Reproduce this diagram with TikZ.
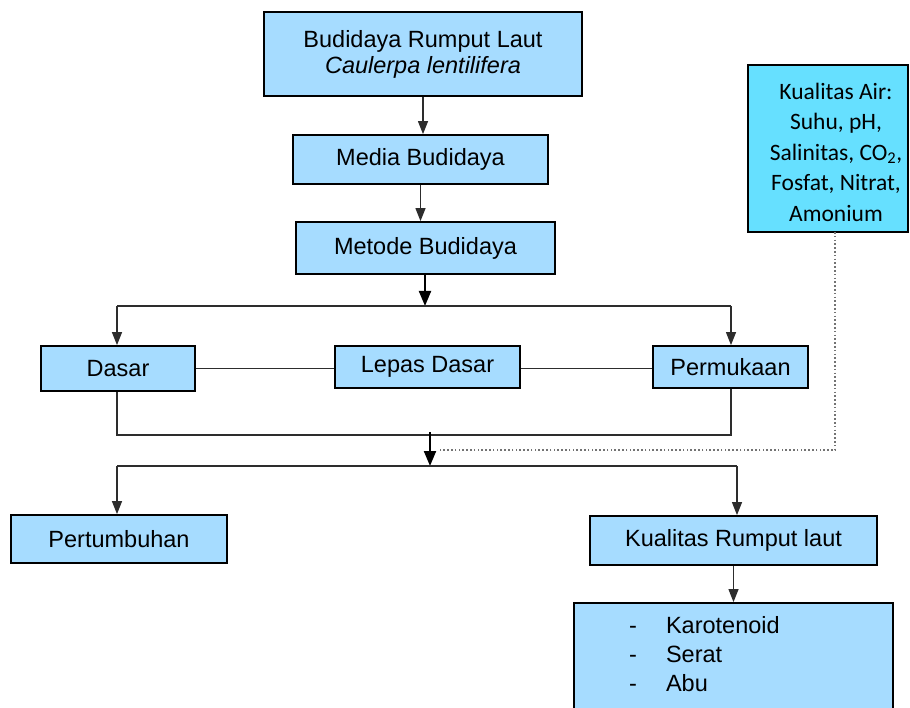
\documentclass[tikz,border=0pt]{standalone}
\usepackage{fontspec}
\setmainfont{Liberation Sans}
\newfontfamily\calib{Carlito}
\usetikzlibrary{arrows.meta}
\definecolor{boxblue}{RGB}{166,220,255}
\definecolor{aircyan}{RGB}{102,224,255}
\definecolor{lineg}{RGB}{45,45,45}
\begin{document}
\begin{tikzpicture}[x=1pt,y=-1pt,
  box/.style={draw=black, line width=1.8pt, fill=boxblue, inner sep=0pt, align=center,
    font=\fontsize{23.5}{26}\selectfont},
  conn/.style={draw=lineg, line width=1.2pt},
  arr/.style={conn, -{Triangle[length=13pt,width=10pt]}},
  bigarr/.style={draw=black, line width=2pt, -{Triangle[length=15pt,width=12pt]}},
  dotline/.style={draw=black!55, line width=2pt, dash pattern=on 1.6pt off 2.2pt}
]
\useasboundingbox (0,0) rectangle (910,708);

% nodes
\node[box, minimum width=318pt, minimum height=84pt] (top) at (423,54)
  {Budidaya Rumput Laut\\\textit{Caulerpa lentilifera}};
\node[box, minimum width=255pt, minimum height=49pt] (media) at (420.5,159.5) {Media Budidaya};
\node[box, minimum width=259pt, minimum height=52pt] (metode) at (425.5,248) {Metode Budidaya};
\node[box, minimum width=154pt, minimum height=45pt] (dasar) at (118,368.5) {Dasar};
\node[box, minimum width=185pt, minimum height=42pt] (lepas) at (427.5,367) {Lepas Dasar};
\node[box, minimum width=155pt, minimum height=42pt] (perm) at (730.5,367) {Permukaan};
\node[box, minimum width=216pt, minimum height=48pt] (pert) at (119,539) {Pertumbuhan};
\node[box, minimum width=287pt, minimum height=49pt] (kual) at (733.5,540.5) {Kualitas Rumput laut};
\node[box, minimum width=319pt, minimum height=114pt] (list) at (733.5,660) {};
\node[anchor=north west, inner sep=0pt, font=\fontsize{23.5}{29}\selectfont] (listtext) at (629,613)
  {\begin{tabular}{@{}l@{\hspace{29pt}}l@{}}-&Karotenoid\\-&Serat\\-&Abu\end{tabular}};
\node[draw=black, line width=1.8pt, fill=aircyan, minimum width=160pt, minimum height=167pt] (air) at (828,148.5) {};
\node[align=center, inner sep=0pt, font=\calib\fontsize{23.5}{30.5}\selectfont] (airtext) at (836,152)
  {Kualitas Air:\\Suhu, pH,\\Salinitas, CO\textsubscript{2},\\Fosfat, Nitrat,\\Amonium};

% coordinates
\coordinate (b1) at (425,306);
\coordinate (b1l) at (117,306);
\coordinate (b1r) at (731,306);
\coordinate (j1l) at (117,435);
\coordinate (j1r) at (731,435);
\coordinate (j1) at (430,432);
\coordinate (b2) at (430,466);
\coordinate (b2l) at (117,466);
\coordinate (b2r) at (737,466);
\coordinate (airb) at (835,232);
\coordinate (dc) at (835,450);
\coordinate (de) at (440,450);

% connectors
\draw[arr] (top.south) -- (top.south |- media.north);
\draw[arr] (media.south) -- (media.south |- metode.north);
\draw[bigarr] (metode.south -| b1) -- (b1);
\draw[conn] (b1l) -- (b1r);
\draw[arr] (b1l) -- (b1l |- dasar.north);
\draw[arr] (b1r) -- (b1r |- perm.north);
\draw[conn] (dasar.east) -- (dasar.east -| lepas.west);
\draw[conn] (lepas.east |- dasar.east) -- (dasar.east -| perm.west);
\draw[conn] (dasar.south -| j1l) -- (j1l) -- (j1r) -- (perm.south -| j1r);
\draw[bigarr] (j1) -- (b2);
\draw[dotline] (airb) -- (dc) -- (de);
\draw[conn] (b2l) -- (b2r);
\draw[arr] (b2l) -- (b2l |- pert.north);
\draw[arr] (b2r) -- (b2r |- kual.north);
\draw[arr] (kual.south) -- (kual.south |- list.north);
\end{tikzpicture}
\end{document}
